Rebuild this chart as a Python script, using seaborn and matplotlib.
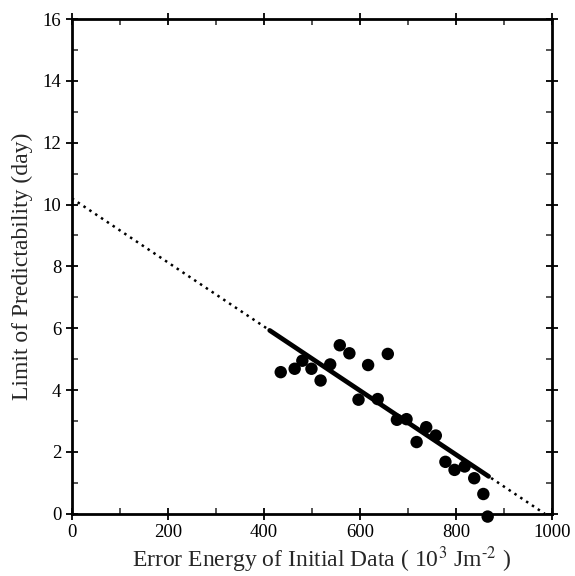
import matplotlib
matplotlib.use("Agg")

import pandas as pd
import matplotlib.pyplot as plt
import seaborn as sns
from matplotlib.ticker import MultipleLocator

# pontos
energia = [435, 464, 480, 499, 518, 538, 558, 578, 597, 617, 637, 658,
           677, 697, 718, 738, 758, 778, 797, 818, 838, 857, 866]
limite = [4.58, 4.69, 4.95, 4.69, 4.31, 4.83, 5.45, 5.19, 3.69, 4.81, 3.71, 5.17,
          3.04, 3.06, 2.32, 2.80, 2.53, 1.68, 1.42, 1.53, 1.15, 0.64, -0.09]

# reta ajustada: trecho sólido e extrapolação pontilhada
reta_x = [412, 868]
reta_y = [5.93, 1.21]
extrap_x = [0, 985]
extrap_y = [10.2, 0.0]

sns.set_theme(style="ticks")
plt.rcParams["font.family"] = ["Liberation Serif", "DejaVu Serif"]
plt.rcParams["mathtext.fontset"] = "stix"

pontos = pd.DataFrame({"energia": energia, "limite": limite})

fig = plt.figure(figsize=(5.75, 5.76), dpi=100)
ax = fig.add_axes([0.125, 0.108, 0.835, 0.859])

sns.lineplot(x=extrap_x, y=extrap_y, ax=ax, color="black", lw=1.8,
             linestyle=(0, (1.0, 1.8)))
sns.lineplot(x=reta_x, y=reta_y, ax=ax, color="black", lw=3.4)
sns.scatterplot(data=pontos, x="energia", y="limite", ax=ax, color="black",
                s=80, edgecolor="none", clip_on=False, zorder=5)

ax.set_xlim(0, 1000)
ax.set_ylim(0, 16)
ax.xaxis.set_major_locator(MultipleLocator(200))
ax.xaxis.set_minor_locator(MultipleLocator(100))
ax.yaxis.set_major_locator(MultipleLocator(2))
ax.yaxis.set_minor_locator(MultipleLocator(1))
ax.tick_params(which="major", direction="inout", length=8, width=1.3,
               top=True, right=True, labelsize=13.5, colors="black")
ax.tick_params(which="minor", direction="in", length=4, width=1.1,
               top=True, right=True)
for s in ax.spines.values():
    s.set_linewidth(2.0)
    s.set_color("black")

ax.set_xlabel("Error Energy of Initial Data ( 10$^3$ Jm$^{\\text{-}2}$ )",
              fontsize=17)
ax.set_ylabel("Limit of Predictability (day)", fontsize=17)
ax.xaxis.set_label_coords(0.52, -0.062)
ax.yaxis.set_label_coords(-0.08, 0.5)

fig.savefig("out.png", dpi=100)
plt.close(fig)
